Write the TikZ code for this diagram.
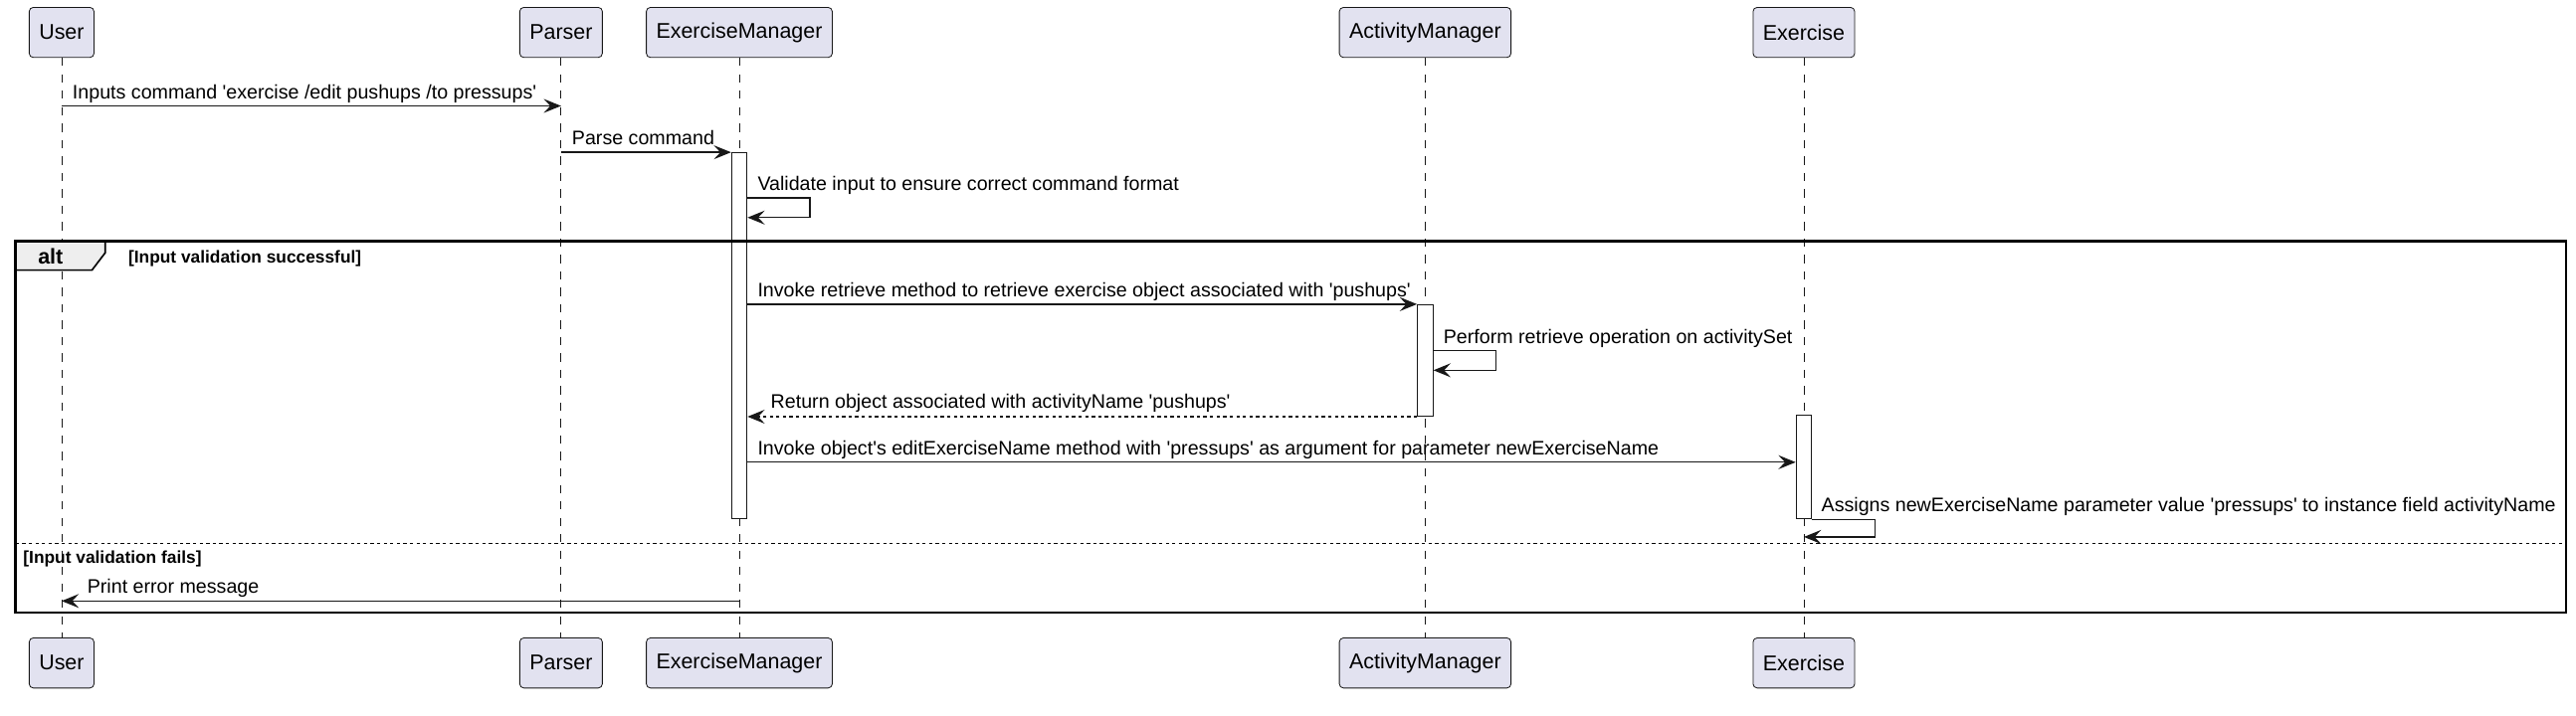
\documentclass[tikz,border=0pt]{standalone}
\usepackage{fontspec}
\newfontfamily\umlfont{Liberation Sans}
\usetikzlibrary{arrows.meta}
\definecolor{umlbox}{HTML}{E2E2F0}
\definecolor{umlline}{HTML}{181818}
\definecolor{umltab}{HTML}{EEEEEE}
\tikzset{
  participant/.style={draw=umlline, fill=umlbox, line width=0.5pt, rounded corners=2.5pt,
    minimum height=30.5pt, inner xsep=6pt, inner ysep=0pt, font=\umlfont\fontsize{13}{15}\selectfont},
  lifeline/.style={draw=umlline, line width=0.5pt, dash pattern=on 5pt off 5pt},
  activation/.style={draw=umlline, fill=white, line width=0.5pt, minimum width=9.5pt, inner sep=0pt},
  msg/.style={draw=umlline, line width=0.8pt, -{Stealth[length=10.5pt,width=8.5pt,inset=4pt]}},
  reply/.style={msg, dash pattern=on 2pt off 2pt},
  msgtext/.style={anchor=base west, inner sep=0pt, font=\umlfont\fontsize{11.9}{14}\selectfont},
  guard/.style={anchor=base west, inner sep=0pt, font=\umlfont\bfseries\fontsize{10.5}{12}\selectfont},
  fragment/.style={draw=black, line width=1.5pt}
}
\begin{document}
\begin{tikzpicture}[x=1pt,y=-1pt]
  \useasboundingbox (0,0) rectangle (1568,436);
  \path
    (37.5,19.75) node[participant] (user){User}
    (341.5,19.75) node[participant] (parser){Parser}
    (450,19.75) node[participant] (em){ExerciseManager}
    (867.5,19.75) node[participant] (am){ActivityManager}
    (1098,19.75) node[participant] (ex){Exercise}
    (37.5,403.75) node[participant] (userB){User}
    (341.5,403.75) node[participant] (parserB){Parser}
    (450,403.75) node[participant] (emB){ExerciseManager}
    (867.5,403.75) node[participant] (amB){ActivityManager}
    (1098,403.75) node[participant] (exB){Exercise};
  \begin{scope}[lifeline]
    \draw (user) to (userB);
    \draw (parser) to (parserB);
    \draw (em) to (emB);
    \draw (am) to (amB);
    \draw (ex) to (exB);
  \end{scope}
  \path
    (450,204.5) node[activation, minimum height=223pt] (actEM){}
    (867.5,219.5) node[activation, minimum height=68pt] (actAM){}
    (1098,284.5) node[activation, minimum height=63pt] (actEx){};
  % alt fragment
  \coordinate (altTL) at (9.5,147);
  \coordinate (altBR) at (1562,373);
  \coordinate (sep) at (0,331);
  \fill[umltab] (altTL) -- (64,147) -- (64,154) -- (56,164.5) -- (9.5,164.5) -- cycle;
  \draw[line width=1pt] (64,147) -- (64,154) -- (56,164.5) -- (9.5,164.5);
  \draw[fragment] (altTL) rectangle (altBR);
  \draw[line width=0.8pt, dash pattern=on 2pt off 2pt] (altTL |- sep) -- (altBR |- sep);
  \node[guard, font=\umlfont\bfseries\fontsize{13}{15}\selectfont] (alt) at (23,160.5) {alt};
  \node[guard] (g1) at (78,160) {[Input validation successful]};
  \node[guard] (g2) at (14,343) {[Input validation fails]};
  % messages
  \coordinate (r1) at (0,64.5);
  \coordinate (r3) at (0,120.5);
  \coordinate (r3b) at (0,132.5);
  \coordinate (r5) at (0,213.5);
  \coordinate (r5b) at (0,225.5);
  \coordinate (r7) at (0,281.5);
  \coordinate (r8b) at (0,327);
  \coordinate (r9) at (0,366);
  \begin{scope}[msg]
    \draw (user |- r1) to (parser |- r1);
    \draw (parser |- actEM.north) to (actEM.north west);
    \draw (actEM.east |- r3) -- ++(38,0) |- (actEM.east |- r3b);
    \draw (actEM.east |- actAM.north) to (actAM.north west);
    \draw (actAM.east |- r5) -- ++(38,0) |- (actAM.east |- r5b);
    \draw[reply] (actAM.south west) to (actEM.east |- actAM.south);
    \draw (actEM.east |- r7) to (actEx.west |- r7);
    \draw (actEx.south east) -- ++(38.5,0) |- (ex |- r8b);
    \draw (em |- r9) to (user |- r9);
  \end{scope}
  \node[msgtext] (t1) at (44,60) {Inputs command 'exercise /edit pushups /to pressups'};
  \node[msgtext] (t2) at (348,88) {Parse command};
  \node[msgtext] (t3) at (461,116) {Validate input to ensure correct command format};
  \node[msgtext] (t4) at (461,181) {Invoke retrieve method to retrieve exercise object associated with 'pushups'};
  \node[msgtext] (t5) at (878.5,209) {Perform retrieve operation on activitySet};
  \node[msgtext] (t6) at (469,248.5) {Return object associated with activityName 'pushups'};
  \node[msgtext] (t7) at (461,277) {Invoke object's editExerciseName method with 'pressups' as argument for parameter newExerciseName};
  \node[msgtext] (t8) at (1108.5,311.5) {Assigns newExerciseName parameter value 'pressups' to instance field activityName};
  \node[msgtext] (t9) at (53,361.5) {Print error message};
\end{tikzpicture}
\end{document}
